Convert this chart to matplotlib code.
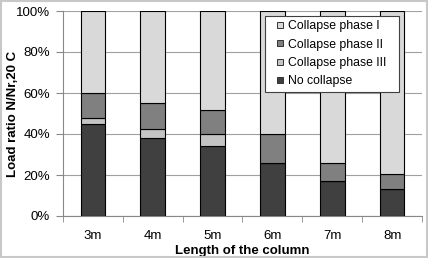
import numpy as np
import matplotlib
matplotlib.use('Agg')
import matplotlib.pyplot as plt
from matplotlib.ticker import PercentFormatter
from matplotlib.patches import Rectangle
from matplotlib.lines import Line2D

plt.rcParams['font.family'] = ['Liberation Sans', 'DejaVu Sans']

# data (percent of load ratio)
lengths = ['3m', '4m', '5m', '6m', '7m', '8m']
no_collapse = [45, 38, 34, 26, 17, 13]
phase_3 = [3, 4.5, 6, 0, 0, 0]
phase_2 = [12, 12.5, 11.5, 14, 9, 7.5]
phase_1 = [40, 45, 48.5, 60, 74, 79.5]

series = [('No collapse', no_collapse, '#404040'),
          ('Collapse phase III', phase_3, '#c4c4c4'),
          ('Collapse phase II', phase_2, '#808080'),
          ('Collapse phase I', phase_1, '#d9d9d9')]

fig = plt.figure(figsize=(4.28, 2.58), dpi=100)
ax = fig.add_axes([63/428, 42/258, 359/428, 205/258])

x = np.arange(len(lengths))
bottom = np.zeros(len(lengths))
for name, vals, col in series:
    ax.bar(x, vals, 0.41, bottom=bottom, color=col, edgecolor='black',
           linewidth=0.8, label=name, zorder=3)
    bottom += np.array(vals)

ax.set_xlim(-0.5, len(lengths) - 0.5)
ax.set_ylim(0, 100)
ax.set_yticks(np.arange(0, 101, 20))
ax.yaxis.set_major_formatter(PercentFormatter(decimals=0))
ax.set_xticks(x)
ax.set_xticklabels(lengths)
ax.set_xticks(np.arange(-0.5, len(lengths), 1), minor=True)
ax.tick_params(axis='x', which='major', length=0, pad=10, labelsize=9.5)
ax.tick_params(axis='x', which='minor', length=4, color='#888888')
ax.tick_params(axis='y', length=5, color='#888888', labelsize=9.5, pad=4.3)
ax.grid(axis='y', color='#a0a0a0', linewidth=0.8, zorder=0)

for s in ['top', 'right']:
    ax.spines[s].set_visible(False)
ax.spines['left'].set_color('#888888')
ax.spines['bottom'].set_color('#888888')

ax.set_xlabel('Length of the column', fontsize=9.5, fontweight='bold', labelpad=2)
ax.set_ylabel('Load ratio N/Nr,20 C', fontsize=9.5, fontweight='bold', labelpad=-2)

# legend: frame drawn separately for the wide side padding
bx0, bx1 = (265 - 63) / 359, (399 - 63) / 359
by0, by1 = (216 - 91.7) / 205, (216 - 15.7) / 205
frame = Rectangle((bx0, by0), bx1 - bx0, by1 - by0, transform=ax.transAxes,
                  facecolor='white', edgecolor='#404040', linewidth=0.8, zorder=5)
ax.add_patch(frame)
handles = [Line2D([], [], marker='s', markersize=4.2, markerfacecolor=col,
                  markeredgecolor='#333333', markeredgewidth=0.7, linestyle='none')
           for _, _, col in series[::-1]]
leg = ax.legend(handles, [s[0] for s in series[::-1]], loc='center',
                bbox_to_anchor=((bx0 + bx1) / 2 - 0.003, (by0 + by1) / 2),
                fontsize=8.8, frameon=False, handlelength=0.6, handletextpad=0.35,
                labelspacing=0.52, borderpad=0, borderaxespad=0)
leg.set_zorder(6)

fig.patches.append(Rectangle((0.003, 0.003), 0.994, 0.994, transform=fig.transFigure,
                             fill=False, edgecolor='#c8c8c8', linewidth=1.5))

fig.savefig('out.png', dpi=100)
